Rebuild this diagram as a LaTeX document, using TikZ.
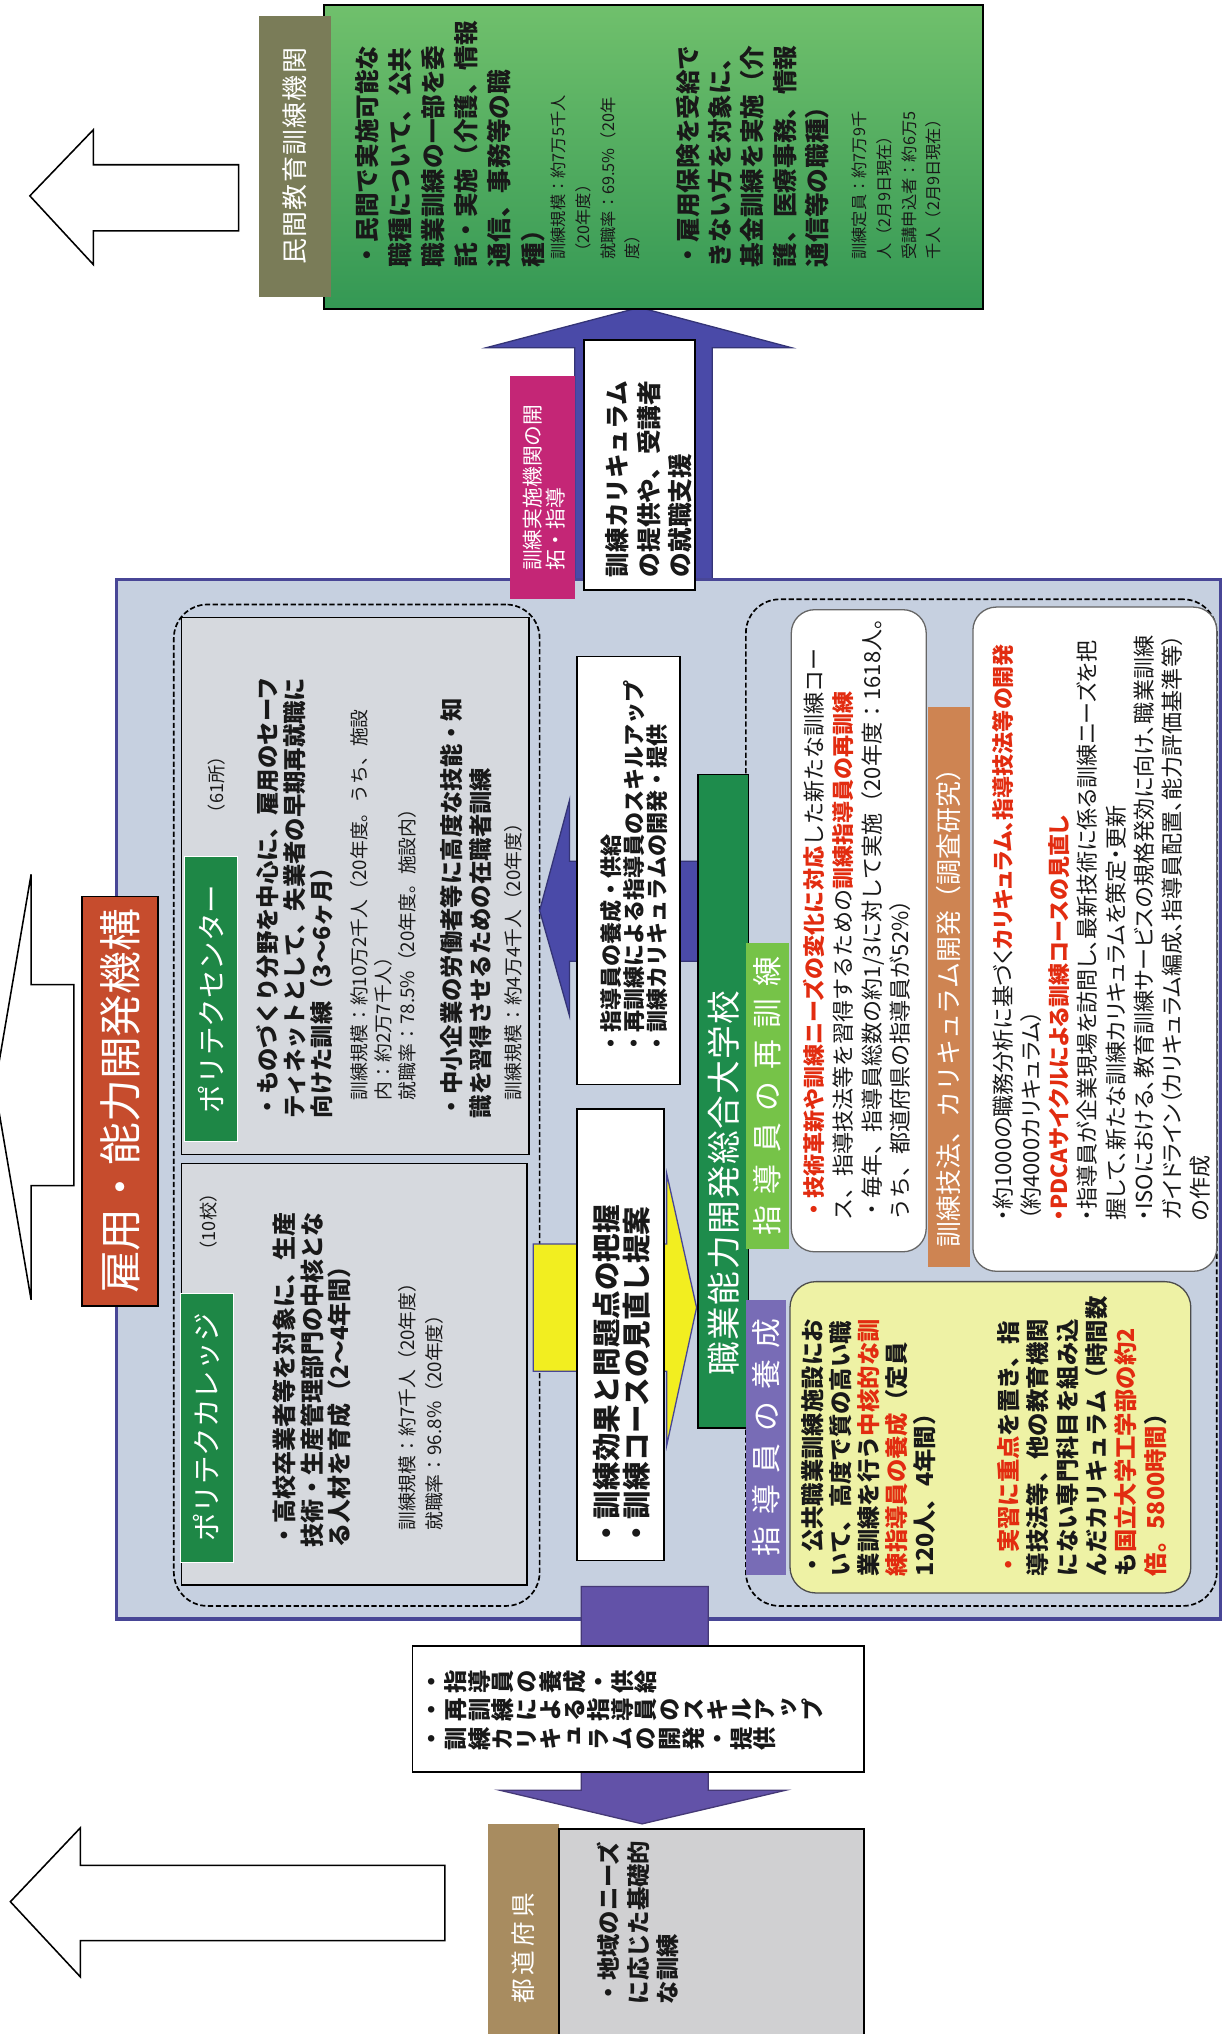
\documentclass[tikz,border=0pt]{standalone}
\usepackage{fontspec}
\setmainfont{Noto Sans CJK JP}
\newfontfamily\propfont{Noto Sans CJK JP}[RawFeature=+palt]
\newfontfamily\tatefont{Noto Sans CJK JP}[RawFeature=+vert]

\definecolor{ink}{RGB}{25,25,25}
\definecolor{hlred}{RGB}{226,44,16}
\definecolor{framefill}{RGB}{198,208,224}
\definecolor{framedraw}{RGB}{72,70,150}
\definecolor{arrowblue}{RGB}{74,74,168}
\definecolor{arrowpurple}{RGB}{98,82,168}
\definecolor{olivelabel}{RGB}{122,124,88}
\definecolor{kaitakupink}{RGB}{196,38,118}
\definecolor{titlered}{RGB}{198,76,45}
\definecolor{ptgreen}{RGB}{30,135,70}
\definecolor{boxgray}{RGB}{214,217,222}
\definecolor{bargreen}{RGB}{30,140,76}
\definecolor{saigreen}{RGB}{118,195,72}
\definecolor{kaiorange}{RGB}{206,132,82}
\definecolor{yoseipurple}{RGB}{120,108,182}
\definecolor{paleyellow}{RGB}{238,242,165}
\definecolor{todotan}{RGB}{168,140,96}
\definecolor{chiikigray}{RGB}{208,208,210}
\definecolor{arrowyellow}{RGB}{242,238,32}
\definecolor{minkanlight}{RGB}{112,192,108}
\definecolor{minkandark}{RGB}{52,152,84}

\newcommand\fs[2]{\fontsize{#1}{#2}\selectfont}
\newcommand\hlt[1]{{\color{hlred}\bfseries #1}}
% one character per line, for the vertically set box
\def\charend{\charend}
\def\tateloop#1{\ifx#1\charend\else\hbox to 1em{\hss#1\hss}\expandafter\tateloop\fi}
\newcommand\tatecol[1]{\vtop{\baselineskip=1.02em\lineskip=0pt\lineskiplimit=-100pt\tateloop#1\charend}}
% letter spacing for the headers
\def\spreadloop#1{\ifx#1\charend\unkern\else#1\kern\spreadgap\expandafter\spreadloop\fi}
\newcommand\spread[2]{\def\spreadgap{#1}\spreadloop#2\charend}

\begin{document}
\begin{tikzpicture}[x=1pt, y=-1pt,
    outline/.style={draw=black, line width=1.2pt, fill=white, line join=miter},
    panel/.style={draw=black, line width=1.3pt, inner sep=0, outer sep=0},
    band/.style={draw=none, inner sep=0, outer sep=0},
    dashbox/.style={draw=black, line width=1.3pt, dash pattern=on 4pt off 2pt, rounded corners=26pt, inner sep=0},
    vtext/.style={rotate=90, inner sep=0, outer sep=0, anchor=north west, align=left, text=ink},
    vlabel/.style={rotate=90, inner sep=0, outer sep=0, text=white},
    blockarrow/.style={line width=1pt, line join=miter}
    ]
    \useasboundingbox (0,0) rectangle (944,1568);

    % Outline arrows on the left
    \draw[outline] (23,151) -- (72,100) -- (72,127) -- (184,127) -- (184,178) -- (72,178) -- (72,204) -- cycle;
    \draw[outline] (-4,838) -- (24,674) -- (24,759) -- (57,759) -- (57,914) -- (24,914) -- (24,1002) -- cycle;
    \draw[outline] (8,1466) -- (62,1409) -- (62,1438) -- (343,1438) -- (343,1496) -- (62,1496) -- (62,1524) -- cycle;

    % Up arrow to the private institutions
    \draw[blockarrow, draw=arrowblue!70!black, fill=arrowblue] (493,237) -- (610,268) -- (549,268) -- (549,452) -- (443,452) -- (443,268) -- (375,268) -- cycle;

    % Private institutions
    \node[panel, top color=minkanlight, bottom color=minkandark, minimum width=508pt, minimum height=234pt] (minkanbox) at (504,121) {};
    \node[band, fill=olivelabel, minimum width=55pt, minimum height=217pt] (minkan) at (227.5,120.5) {};
    \node[vlabel, font=\fs{20}{20}] (minkanlabel) at (minkan) {\spread{1pt}{民間教育訓練機関}};
    \node[vtext, font=\fs{19}{25.5}\bfseries] (minkantext1) at (274,206) {・民間で実施可能な\\職種について、公共\\職業訓練の一部を委\\託・実施（介護、情報\\通信、事務等の職\\種）};
    \node[vtext, font=\fs{12.5}{19}] (minkanfig1) at (425,200) {訓練規模：約7万5千人\\（20年度）\\就職率：69.5\%（20年\\度）};
    \node[vtext, font=\fs{19}{25}\bfseries] (minkantext2) at (521,206) {・雇用保険を受給で\\きない方を対象に、\\基金訓練を実施（介\\護、医療事務、情報\\通信等の職種）};
    \node[vtext, font=\fs{12.5}{19}] (minkanfig2) at (657,200) {訓練定員：約7万9千\\人（2月9日現在）\\受講申込者：約6万5\\千人（2月9日現在）};

    % Main frame
    \node[panel, draw=framedraw, line width=2.5pt, fill=framefill, minimum width=851pt, minimum height=801pt] (kikou) at (515.5,847.5) {};

    % Box in the up arrow and its label
    \node[panel, fill=white, minimum width=86pt, minimum height=193pt] (supportbox) at (493,358.5) {};
    \node[vtext, font=\fs{19}{24}\bfseries] (supporttext) at (467,445) {訓練カリキュラム\\の提供や、受講者\\の就職支援};
    \node[band, fill=kaitakupink, minimum width=50pt, minimum height=172pt] (kaitaku) at (418,376) {};
    \node[vtext, text=white, font=\fs{16}{18}] (kaitakutext) at (403,440) {訓練実施機関の開\\拓・指導};

    % Title
    \node[panel, fill=titlered, minimum width=59pt, minimum height=316pt] (titlebox) at (92.5,849) {};
    \node[vlabel, font=\fs{33}{33}] (titletext) at (titlebox) {雇用・能力開発機構};

    % Left group
    \node[dashbox, minimum width=282pt, minimum height=772pt] (leftgroup) at (275,852) {};
    \node[panel, fill=boxgray, minimum width=268pt, minimum height=414pt] (ptcbox) at (274,683) {};
    \node[band, fill=ptgreen, draw=white, minimum width=41pt, minimum height=220pt] (ptchead) at (162.5,770) {};
    \node[vlabel, font=\fs{22}{22}] (ptctitle) at (ptchead) {ポリテクセンター};
    \node[vtext, anchor=center, font=\fs{14}{14}] (ptccount) at (167,605) {（61所）};
    \node[vtext, font=\fs{18}{21}\bfseries] (ptctext1) at (197.5,862) {・ものづくり分野を中心に、雇用のセーフ\\ティネットとして、失業者の早期再就職に\\向けた訓練（3〜6ヶ月）};
    \node[vtext, font=\fs{14.5}{18.5}] (ptcfig1) at (270,848) {訓練規模：約10万2千人（20年度。うち、施設\\内：約2万7千人）\\就職率：78.5\%（20年度。施設内）};
    \node[vtext, font=\fs{18}{22}\bfseries] (ptctext2) at (339.5,862) {・中小企業の労働者等に高度な技能・知\\識を習得させるための在職者訓練};
    \node[vtext, font=\fs{14.5}{18.5}] (ptcfig2) at (389,848) {訓練規模：約4万4千人（20年度）};

    \node[panel, fill=boxgray, minimum width=266pt, minimum height=325pt] (ptcolbox) at (273,1059.5) {};
    \node[band, fill=ptgreen, draw=white, minimum width=41pt, minimum height=207pt] (ptcolhead) at (159.5,1100.5) {};
    \node[vlabel, font=\fs{22}{22}] (ptcoltitle) at (ptcolhead) {ポリテクカレッジ};
    \node[vtext, anchor=center, font=\fs{14}{14}] (ptcolcount) at (161,942) {（10校）};
    \node[vtext, font=\fs{18.5}{21.5}\bfseries] (ptcoltext) at (210,1193) {・高校卒業者等を対象に、生産\\技術・生産管理部門の中核とな\\る人材を育成（2〜4年間）};
    \node[vtext, font=\fs{14.5}{21}] (ptcolfig) at (307,1180) {訓練規模：約7千人（20年度）\\就職率：96.8\%（20年度）};

    % Centre column
    \draw[blockarrow, draw=arrowblue!70!black, fill=arrowblue] (416,702) -- (439,617) -- (439,664) -- (538,664) -- (538,741) -- (439,741) -- (439,783) -- cycle;
    \draw[blockarrow, draw=framedraw, fill=arrowyellow] (411,959) -- (514,959) -- (514,905) -- (537,1008) -- (514,1114) -- (514,1057) -- (411,1057) -- cycle;
    \node[panel, fill=white, minimum width=79pt, minimum height=330pt] (supplybox) at (484.5,671) {};
    \node[vtext, font=\fs{17}{17.7}\bfseries] (supplytext) at (463,813) {・指導員の養成・供給\\・再訓練による指導員のスキルアップ\\・訓練カリキュラムの開発・提供};
    \node[panel, fill=white, minimum width=67pt, minimum height=348pt] (reviewbox) at (478.5,1029) {};
    \node[vtext, font=\fs{22}{23}\bfseries] (reviewtext) at (457,1193) {・訓練効果と問題点の把握\\・訓練コースの見直し提案};

    % Right group
    \node[dashbox, minimum width=363pt, minimum height=776pt] (rightgroup) at (756.5,850) {};
    \node[panel, fill=bargreen, minimum width=39pt, minimum height=504pt] (daigakko) at (557.5,849) {};
    \node[vlabel, font=\fs{26}{26}] (daigakkotext) at (557.5,912) {\spread{1pt}{職業能力開発総合大学校}};

    \node[band, fill=saigreen, minimum width=33pt, minimum height=236pt] (saihead) at (591.5,845) {};
    \node[vlabel, font=\fs{23}{23}] (saititle) at (saihead) {\spread{9pt}{指導員の再訓練}};
    \node[panel, draw=black!60, line width=1pt, fill=white, rounded corners=18pt, minimum width=104pt, minimum height=495pt] (saibox) at (662,717.5) {};
    \node[vtext, font=\fs{17}{22}] (saitext) at (619.5,941) {\hlt{・技術革新や訓練ニーズの変化に対応}した新たな訓練コー\\ス、指導技法等を習得するための\hlt{訓練指導員の再訓練}\\・毎年、指導員総数の約1/3に対して実施（20年度：1618人。\\うち、都道府県の指導員が52\%）};

    \node[band, fill=kaiorange, minimum width=33pt, minimum height=432pt] (kaihead) at (731.5,761) {};
    \node[vlabel, font=\fs{20}{20}] (kaititle) at (731.5,772) {訓練技法、カリキュラム開発（調査研究）};
    \node[panel, draw=black!60, line width=1pt, fill=white, rounded corners=18pt, minimum width=188pt, minimum height=512pt] (kaibox) at (844,724) {};
    \node[vtext, font=\propfont\fs{17}{21.7}] (kaitext) at (765,941) {・約1000の職務分析に基づく\hlt{カリキュラム、指導技法等の開発}\\（約4000カリキュラム）\\\hlt{・PDCAサイクルによる訓練コースの見直し}\\・指導員が企業現場を訪問し、最新技術に係る訓練ニーズを把\\握して、新たな訓練カリキュラムを策定・更新\\・ISOにおける、教育訓練サービスの規格発効に向け、職業訓練\\ガイドライン（カリキュラム編成、指導員配置、能力評価基準等）\\の作成};

    \node[band, fill=yoseipurple, minimum width=31pt, minimum height=212pt] (yoseihead) at (590.5,1108) {};
    \node[vlabel, font=\fs{23}{23}] (yoseititle) at (yoseihead) {\spread{9pt}{指導員の養成}};
    \node[panel, draw=black!70, line width=1pt, fill=paleyellow, rounded corners=20pt, minimum width=309pt, minimum height=240pt] (yoseibox) at (763.5,1108) {};
    \node[vtext, font=\fs{18}{21.5}\bfseries] (yoseitext1) at (618,1215) {・公共職業訓練施設にお\\いて、高度で質の高い職\\業訓練を行う\hlt{中核的な訓}\\\hlt{練指導員の養成}（定員\\120人、4年間）};
    \node[vtext, font=\fs{18}{22.6}\bfseries] (yoseitext2) at (769,1215) {\hlt{・実習に重点}を置き、指\\導技法等、他の教育機関\\にない専門科目を組み込\\んだカリキュラム（時間数\\も\hlt{国立大学工学部の約2}\\\hlt{倍。5800時間}）};

    % Down arrow to the prefectures
    \draw[blockarrow, draw=arrowpurple!70!black, fill=arrowpurple] (448,1223) -- (546,1223) -- (546,1380) -- (606,1380) -- (495,1406) -- (385,1380) -- (448,1380) -- cycle;
    \node[panel, fill=white, minimum width=348pt, minimum height=97pt] (shidoubox) at (492,1317.5) {};
    \node[rotate=90, inner sep=0, anchor=north east, text=ink, font=\tatefont\fs{18}{18}\bfseries] (shidoutext) at (330,1287) {\tatecol{・訓練カリキュラムの開発・提供}\kern4pt\tatecol{・再訓練による指導員のスキルアップ}\kern4pt\tatecol{・指導員の養成・供給}};

    % Prefectures
    \node[band, fill=todotan, minimum width=55pt, minimum height=170pt] (todofuken) at (403.5,1491) {};
    \node[vlabel, font=\fs{19}{19}] (todofukentext) at (403.5,1502) {\spread{3pt}{都道府県}};
    \node[panel, fill=chiikigray, minimum width=235pt, minimum height=170pt] (chiikibox) at (548.5,1495) {};
    \node[vtext, font=\fs{18}{23}\bfseries] (chiikitext) at (460,1545) {・地域のニーズ\\に応じた基礎的\\な訓練};
\end{tikzpicture}
\end{document}
